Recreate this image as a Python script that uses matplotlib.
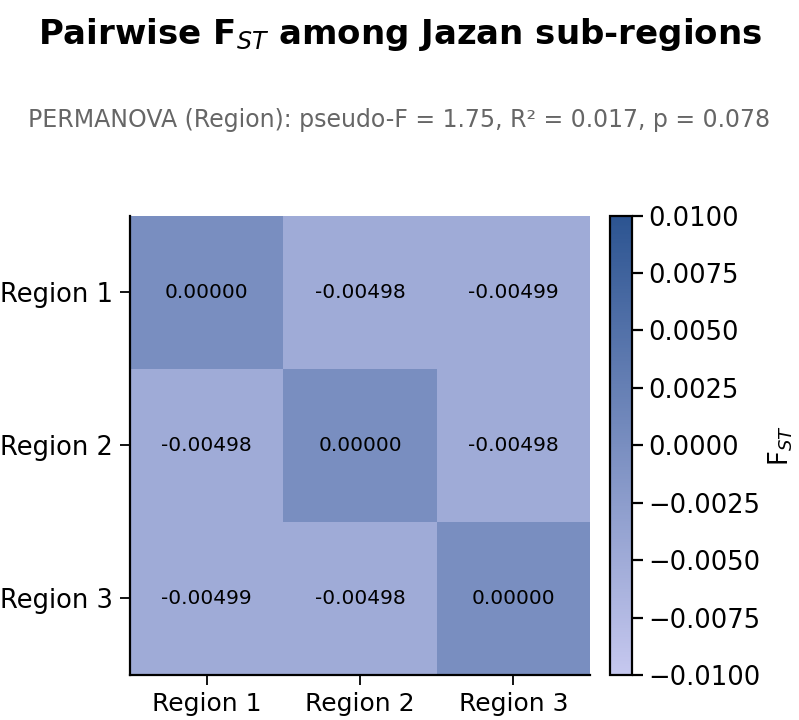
import matplotlib
matplotlib.use("Agg")
import matplotlib.pyplot as plt
import numpy as np
from matplotlib.colors import LinearSegmentedColormap

regions = ["Region 1", "Region 2", "Region 3"]
fst_values = [[0.00000, -0.00498, -0.00499],
              [-0.00498, 0.00000, -0.00498],
              [-0.00499, -0.00498, 0.00000]]
cbar_ticks = [-0.0100, -0.0075, -0.0050, -0.0025, 0.0000, 0.0025, 0.0050, 0.0075, 0.0100]
subtitle = "PERMANOVA (Region): pseudo-F = 1.75, R² = 0.017, p = 0.078"

data = np.array(fst_values)
cmap = LinearSegmentedColormap.from_list("fst", ["#c6c8ef", "#2c5491"])

fig = plt.figure(figsize=(7.99, 7.2), dpi=100)
ax = fig.add_axes([0.1627, 0.0625, 0.5757, 0.638])
cax = fig.add_axes([0.7635, 0.0625, 0.0275, 0.638])

mesh = ax.pcolormesh(data, cmap=cmap, vmin=-0.01, vmax=0.01)
ax.set_xlim(0, 3)
ax.set_ylim(3, 0)
for i in range(3):
    for j in range(3):
        ax.text(j + 0.5, i + 0.5, f"{data[i, j]:.5f}", ha="center", va="center",
                fontsize=14.5, color="black")

ax.set_xticks(np.arange(3) + 0.5)
ax.set_xticklabels(regions, fontsize=18)
ax.set_yticks(np.arange(3) + 0.5)
ax.set_yticklabels(regions, fontsize=18.5, rotation=0)
ax.tick_params(length=7, width=1.3, pad=5)
ax.spines["top"].set_visible(False)
ax.spines["right"].set_visible(False)
ax.spines["left"].set_linewidth(1.6)
ax.spines["bottom"].set_linewidth(1.6)

cb = fig.colorbar(mesh, cax=cax)
cb.set_ticks(cbar_ticks)
cb.ax.set_yticklabels([f"{t:.4f}".replace("-", "\u2212") for t in cbar_ticks], fontsize=18.5)
cb.ax.tick_params(length=8, width=1.6, pad=4)
cb.outline.set_linewidth(1.6)
cb.set_label("F$_{ST}$", fontsize=18.5, labelpad=4)

fig.text(0.5, 0.952, "Pairwise F$_{ST}$ among Jazan sub-regions", ha="center", va="center",
         fontsize=24.5, fontweight="bold")
fig.text(0.5, 0.833, subtitle, ha="center", va="center", fontsize=17, color="#666666")

fig.savefig("out.png", dpi=100)
